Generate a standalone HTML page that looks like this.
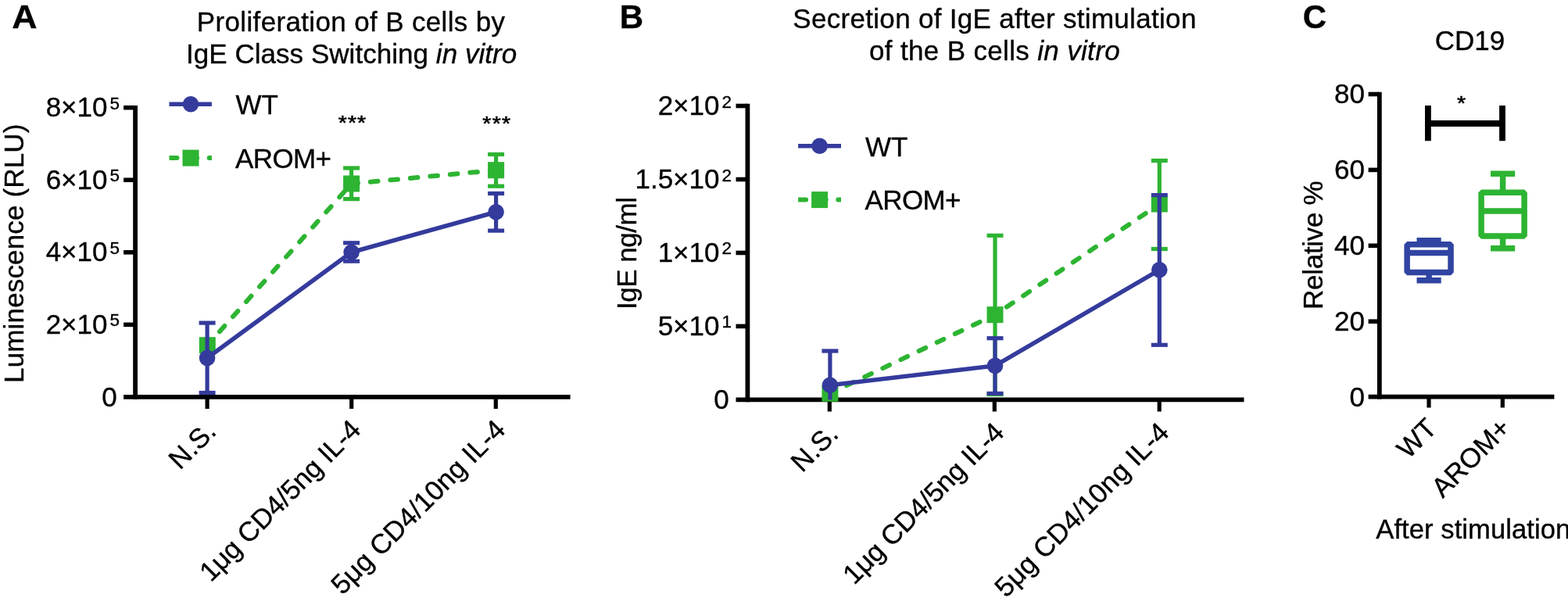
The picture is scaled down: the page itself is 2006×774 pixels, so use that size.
<!DOCTYPE html>
<html lang="en">
<head>
<meta charset="utf-8">
<title>Figure</title>
<style>
html,body{margin:0;padding:0;background:#fff;}
body{width:2006px;height:774px;overflow:hidden;}
svg{display:block;}
svg text{font-family:"Liberation Sans",sans-serif;fill:#000;font-kerning:none;stroke:#000;stroke-width:0.35px;}
</style>
</head>
<body>
<svg width="2006" height="774" viewBox="0 0 2006 774">
<rect x="0" y="0" width="2006" height="774" fill="#fff"/>
<text x="15.2" y="35.7" font-size="43" font-weight="bold" textLength="32.3" lengthAdjust="spacingAndGlyphs">A</text>
<text x="448.95" y="39.9" text-anchor="middle" font-size="35" textLength="394.2" lengthAdjust="spacing">Proliferation of B cells by</text>
<text x="449.6" y="80.6" text-anchor="middle" font-size="35" textLength="423.2" lengthAdjust="spacing">IgE Class Switching <tspan font-style="italic">in vitro</tspan></text>
<text transform="translate(29.7,324.3) rotate(-90)" text-anchor="middle" font-size="35" textLength="331.3" lengthAdjust="spacing">Luminescence (RLU)</text>
<path d="M173.1,134.9 V510.7" stroke="#000" stroke-width="5.8" fill="none"/>
<path d="M158.1,507.9 H729.6" stroke="#000" stroke-width="5.6" fill="none"/>
<line x1="158.1" y1="137.7" x2="173" y2="137.7" stroke="#000" stroke-width="5.6"/>
<line x1="158.1" y1="230.25" x2="173" y2="230.25" stroke="#000" stroke-width="5.6"/>
<line x1="158.1" y1="322.8" x2="173" y2="322.8" stroke="#000" stroke-width="5.6"/>
<line x1="158.1" y1="415.35" x2="173" y2="415.35" stroke="#000" stroke-width="5.6"/>
<line x1="265.1" y1="507.9" x2="265.1" y2="523" stroke="#000" stroke-width="5.2"/>
<line x1="449.7" y1="507.9" x2="449.7" y2="523" stroke="#000" stroke-width="5.2"/>
<line x1="634.3" y1="507.9" x2="634.3" y2="523" stroke="#000" stroke-width="5.2"/>
<text x="153" y="149.29999999999998" text-anchor="end" font-size="35">8×10<tspan font-size="22.5" dy="-9.6" dx="3">5</tspan></text>
<text x="153" y="241.85" text-anchor="end" font-size="35">6×10<tspan font-size="22.5" dy="-9.6" dx="3">5</tspan></text>
<text x="153" y="334.40000000000003" text-anchor="end" font-size="35">4×10<tspan font-size="22.5" dy="-9.6" dx="3">5</tspan></text>
<text x="153" y="426.95000000000005" text-anchor="end" font-size="35">2×10<tspan font-size="22.5" dy="-9.6" dx="3">5</tspan></text>
<text x="149.6" y="519.5" text-anchor="end" font-size="35">0</text>
<text transform="translate(278.4,553.8) rotate(-45)" text-anchor="end" font-size="35">N.S.</text>
<text transform="translate(463.6,551.8) rotate(-45)" text-anchor="end" font-size="35" textLength="274.3" lengthAdjust="spacing">1μg CD4/5ng IL-4</text>
<text transform="translate(648.4,551.8) rotate(-45)" text-anchor="end" font-size="35" textLength="297.5" lengthAdjust="spacing">5μg CD4/10ng IL-4</text>
<line x1="265.3" y1="441.7" x2="449.6" y2="235" stroke="#2DB432" stroke-width="6" stroke-dasharray="9.6 16" stroke-dashoffset="2.1" stroke-linecap="round"/>
<line x1="449.6" y1="235" x2="634.6" y2="217.7" stroke="#2DB432" stroke-width="6" stroke-dasharray="9.6 16" stroke-dashoffset="1.2" stroke-linecap="round"/>
<line x1="449.6" y1="215" x2="449.6" y2="254.6" stroke="#2DB432" stroke-width="5.2"/>
<line x1="439.1" y1="215" x2="460.1" y2="215" stroke="#2DB432" stroke-width="5.2"/>
<line x1="439.1" y1="254.6" x2="460.1" y2="254.6" stroke="#2DB432" stroke-width="5.2"/>
<line x1="634.6" y1="197.5" x2="634.6" y2="238.2" stroke="#2DB432" stroke-width="5.2"/>
<line x1="624.1" y1="197.5" x2="645.1" y2="197.5" stroke="#2DB432" stroke-width="5.2"/>
<line x1="624.1" y1="238.2" x2="645.1" y2="238.2" stroke="#2DB432" stroke-width="5.2"/>
<rect x="254.8" y="431.2" width="21" height="21" fill="#2DB432"/>
<rect x="439.1" y="224.5" width="21" height="21" fill="#2DB432"/>
<rect x="624.1" y="207.2" width="21" height="21" fill="#2DB432"/>
<polyline points="265.1,457.9 449.6,322.7 634.6,271.2" fill="none" stroke="#343B9C" stroke-width="5.6" stroke-linejoin="round"/>
<line x1="265.1" y1="413.1" x2="265.1" y2="502.5" stroke="#343B9C" stroke-width="5.2"/>
<line x1="254.60000000000002" y1="413.1" x2="275.6" y2="413.1" stroke="#343B9C" stroke-width="5.2"/>
<line x1="254.60000000000002" y1="502.5" x2="275.6" y2="502.5" stroke="#343B9C" stroke-width="5.2"/>
<line x1="449.6" y1="310.75" x2="449.6" y2="334.2" stroke="#343B9C" stroke-width="5.2"/>
<line x1="439.1" y1="310.75" x2="460.1" y2="310.75" stroke="#343B9C" stroke-width="5.2"/>
<line x1="439.1" y1="334.2" x2="460.1" y2="334.2" stroke="#343B9C" stroke-width="5.2"/>
<line x1="634.6" y1="247.5" x2="634.6" y2="295.1" stroke="#343B9C" stroke-width="5.2"/>
<line x1="624.1" y1="247.5" x2="645.1" y2="247.5" stroke="#343B9C" stroke-width="5.2"/>
<line x1="624.1" y1="295.1" x2="645.1" y2="295.1" stroke="#343B9C" stroke-width="5.2"/>
<circle cx="265.1" cy="457.9" r="10.3" fill="#343B9C"/>
<circle cx="449.6" cy="322.7" r="10.3" fill="#343B9C"/>
<circle cx="634.6" cy="271.2" r="10.3" fill="#343B9C"/>
<line x1="216.5" y1="133.3" x2="270.9" y2="133.3" stroke="#343B9C" stroke-width="5.6"/>
<circle cx="244" cy="133.3" r="10.3" fill="#343B9C"/>
<clipPath id="c216"><rect x="216.5" y="192.1" width="54.39999999999998" height="20"/></clipPath>
<line x1="216.5" y1="202.1" x2="280.9" y2="202.1" stroke="#2DB432" stroke-width="6" stroke-dasharray="10 15.6" stroke-linecap="round" clip-path="url(#c216)"/>
<rect x="233.5" y="191.6" width="21" height="21" fill="#2DB432"/>
<text x="301.5" y="146.10000000000002" font-size="35">WT</text>
<text x="301.0" y="214.9" font-size="35" textLength="123" lengthAdjust="spacing">AROM+</text>
<text transform="translate(438.3,153) scale(0.85,0.762)" y="17.25" text-anchor="middle" font-size="33.4" style="stroke-width:0.8px">*</text>
<text transform="translate(450.5,153) scale(0.85,0.762)" y="17.25" text-anchor="middle" font-size="33.4" style="stroke-width:0.8px">*</text>
<text transform="translate(462.6,153) scale(0.85,0.762)" y="17.25" text-anchor="middle" font-size="33.4" style="stroke-width:0.8px">*</text>
<text transform="translate(622.7,154) scale(0.85,0.762)" y="17.25" text-anchor="middle" font-size="33.4" style="stroke-width:0.8px">*</text>
<text transform="translate(635.2,154) scale(0.85,0.762)" y="17.25" text-anchor="middle" font-size="33.4" style="stroke-width:0.8px">*</text>
<text transform="translate(647.5,154) scale(0.85,0.762)" y="17.25" text-anchor="middle" font-size="33.4" style="stroke-width:0.8px">*</text>
<text x="792.7" y="35.9" font-size="42" font-weight="bold">B</text>
<text x="1272.3" y="36.3" text-anchor="middle" font-size="35" textLength="516.1" lengthAdjust="spacing">Secretion of IgE after stimulation</text>
<text x="1272.3" y="77.4" text-anchor="middle" font-size="35" textLength="320.6" lengthAdjust="spacing">of the B cells <tspan font-style="italic">in vitro</tspan></text>
<text transform="translate(814.1,324) rotate(-90)" text-anchor="middle" font-size="35" textLength="144.2" lengthAdjust="spacing">IgE ng/ml</text>
<path d="M956.4,132.7 V514.2" stroke="#000" stroke-width="5.8" fill="none"/>
<path d="M941.5,511.4 H1591.5" stroke="#000" stroke-width="5.6" fill="none"/>
<line x1="941.5" y1="135.5" x2="956" y2="135.5" stroke="#000" stroke-width="5.6"/>
<line x1="941.5" y1="229.5" x2="956" y2="229.5" stroke="#000" stroke-width="5.6"/>
<line x1="941.5" y1="323.45" x2="956" y2="323.45" stroke="#000" stroke-width="5.6"/>
<line x1="941.5" y1="417.4" x2="956" y2="417.4" stroke="#000" stroke-width="5.6"/>
<line x1="1061.3" y1="511.4" x2="1061.3" y2="526.5" stroke="#000" stroke-width="5.2"/>
<line x1="1272.3" y1="511.4" x2="1272.3" y2="526.5" stroke="#000" stroke-width="5.2"/>
<line x1="1483.2" y1="511.4" x2="1483.2" y2="526.5" stroke="#000" stroke-width="5.2"/>
<text x="936" y="147.1" text-anchor="end" font-size="35">2×10<tspan font-size="22.5" dy="-9.6" dx="3">2</tspan></text>
<text x="936" y="241.1" text-anchor="end" font-size="35">1.5×10<tspan font-size="22.5" dy="-9.6" dx="3">2</tspan></text>
<text x="936" y="335.05" text-anchor="end" font-size="35">1×10<tspan font-size="22.5" dy="-9.6" dx="3">2</tspan></text>
<text x="936" y="429.0" text-anchor="end" font-size="35">5×10<tspan font-size="22.5" dy="-9.6" dx="3">1</tspan></text>
<text x="932.6" y="523.0" text-anchor="end" font-size="35">0</text>
<text transform="translate(1074.4,557.3) rotate(-45)" text-anchor="end" font-size="35">N.S.</text>
<text transform="translate(1286.6,555.3) rotate(-45)" text-anchor="end" font-size="35" textLength="274.3" lengthAdjust="spacing">1μg CD4/5ng IL-4</text>
<text transform="translate(1497.4,555.3) rotate(-45)" text-anchor="end" font-size="35" textLength="297.5" lengthAdjust="spacing">5μg CD4/10ng IL-4</text>
<line x1="1061.9" y1="503.2" x2="1273" y2="402.7" stroke="#2DB432" stroke-width="6" stroke-dasharray="9.6 16" stroke-dashoffset="2.1" stroke-linecap="round"/>
<line x1="1273" y1="402.7" x2="1483.3" y2="261" stroke="#2DB432" stroke-width="6" stroke-dasharray="9.6 16" stroke-dashoffset="7.7" stroke-linecap="round"/>
<line x1="1273" y1="301.3" x2="1273" y2="504.5" stroke="#2DB432" stroke-width="5.2"/>
<line x1="1262.5" y1="301.3" x2="1283.5" y2="301.3" stroke="#2DB432" stroke-width="5.2"/>
<line x1="1262.5" y1="504.5" x2="1283.5" y2="504.5" stroke="#2DB432" stroke-width="5.2"/>
<line x1="1483.3" y1="205.5" x2="1483.3" y2="318.5" stroke="#2DB432" stroke-width="5.2"/>
<line x1="1472.8" y1="205.5" x2="1493.8" y2="205.5" stroke="#2DB432" stroke-width="5.2"/>
<line x1="1472.8" y1="318.5" x2="1493.8" y2="318.5" stroke="#2DB432" stroke-width="5.2"/>
<rect x="1051.4" y="492.7" width="21" height="21" fill="#2DB432"/>
<rect x="1262.5" y="392.2" width="21" height="21" fill="#2DB432"/>
<rect x="1472.8" y="250.5" width="21" height="21" fill="#2DB432"/>
<polyline points="1061.9,492.8 1273,467.9 1483.3,345.3" fill="none" stroke="#343B9C" stroke-width="5.6" stroke-linejoin="round"/>
<line x1="1061.9" y1="449" x2="1061.9" y2="511.4" stroke="#343B9C" stroke-width="5.2"/>
<line x1="1051.4" y1="449" x2="1072.4" y2="449" stroke="#343B9C" stroke-width="5.2"/>
<line x1="1273" y1="432.7" x2="1273" y2="503.4" stroke="#343B9C" stroke-width="5.2"/>
<line x1="1262.5" y1="432.7" x2="1283.5" y2="432.7" stroke="#343B9C" stroke-width="5.2"/>
<line x1="1262.5" y1="503.4" x2="1283.5" y2="503.4" stroke="#343B9C" stroke-width="5.2"/>
<line x1="1483.3" y1="249.6" x2="1483.3" y2="441.3" stroke="#343B9C" stroke-width="5.2"/>
<line x1="1472.8" y1="249.6" x2="1493.8" y2="249.6" stroke="#343B9C" stroke-width="5.2"/>
<line x1="1472.8" y1="441.3" x2="1493.8" y2="441.3" stroke="#343B9C" stroke-width="5.2"/>
<circle cx="1061.9" cy="492.8" r="10.3" fill="#343B9C"/>
<circle cx="1273" cy="467.9" r="10.3" fill="#343B9C"/>
<circle cx="1483.3" cy="345.3" r="10.3" fill="#343B9C"/>
<line x1="1021.1" y1="186.8" x2="1076" y2="186.8" stroke="#343B9C" stroke-width="5.6"/>
<circle cx="1048.6" cy="186.8" r="10.3" fill="#343B9C"/>
<clipPath id="c1021"><rect x="1021.1" y="245.6" width="54.89999999999998" height="20"/></clipPath>
<line x1="1021.1" y1="255.6" x2="1086" y2="255.6" stroke="#2DB432" stroke-width="6" stroke-dasharray="10 15.6" stroke-linecap="round" clip-path="url(#c1021)"/>
<rect x="1038.1" y="245.1" width="21" height="21" fill="#2DB432"/>
<text x="1107" y="199.60000000000002" font-size="35">WT</text>
<text x="1106.5" y="268.4" font-size="35" textLength="123" lengthAdjust="spacing">AROM+</text>
<text x="1666.7" y="35.9" font-size="42" font-weight="bold">C</text>
<text x="1880.5" y="64" text-anchor="middle" font-size="35">CD19</text>
<text transform="translate(1692.2,313.6) rotate(-90)" text-anchor="middle" font-size="35" textLength="164.7" lengthAdjust="spacing">Relative %</text>
<path d="M1764.8,117.7 V510.5" stroke="#000" stroke-width="5.8" fill="none"/>
<path d="M1750.6,507.6 H1988.4" stroke="#000" stroke-width="5.8" fill="none"/>
<line x1="1750.6" y1="120.5" x2="1764" y2="120.5" stroke="#000" stroke-width="5.6"/>
<line x1="1750.6" y1="217.4" x2="1764" y2="217.4" stroke="#000" stroke-width="5.6"/>
<line x1="1750.6" y1="314.3" x2="1764" y2="314.3" stroke="#000" stroke-width="5.6"/>
<line x1="1750.6" y1="411.2" x2="1764" y2="411.2" stroke="#000" stroke-width="5.6"/>
<line x1="1828" y1="507.6" x2="1828" y2="521.5" stroke="#000" stroke-width="5.2"/>
<line x1="1922.3" y1="507.6" x2="1922.3" y2="521.5" stroke="#000" stroke-width="5.2"/>
<text x="1746" y="132.1" text-anchor="end" font-size="35">80</text>
<text x="1746" y="229.0" text-anchor="end" font-size="35">60</text>
<text x="1746" y="325.90000000000003" text-anchor="end" font-size="35">40</text>
<text x="1746" y="422.8" text-anchor="end" font-size="35">20</text>
<text x="1746" y="519.6" text-anchor="end" font-size="35">0</text>
<text transform="translate(1840,550) rotate(-45)" text-anchor="end" font-size="35">WT</text>
<text transform="translate(1934.5,549.5) rotate(-45)" text-anchor="end" font-size="35">AROM+</text>
<text x="1760.3" y="688.5" font-size="34.6" textLength="249" lengthAdjust="spacing">After stimulation</text>
<path d="M1826.9,135.1 V180.3 M1922,135.1 V180.3 M1826.9,158 H1922" stroke="#000" stroke-width="7.8" fill="none"/>
<text transform="translate(1869.45,127.8) scale(0.85,0.762)" y="17.25" text-anchor="middle" font-size="33.4" style="stroke-width:0.8px">*</text>
<path d="M1828.1,307.8 V312.7 M1828.1,348.5 V358.8 M1812.5,307.8 H1843.6999999999998 M1812.5,358.8 H1843.6999999999998 M1800.1499999999999,323.4 H1856.05" stroke="#3044A2" stroke-width="7.5" fill="none"/>
<rect x="1800.1499999999999" y="312.7" width="55.9" height="35.80000000000001" stroke="#3044A2" stroke-width="7.5" fill="none" stroke-linejoin="bevel"/>
<path d="M1922.6,222.3 V246.2 M1922.6,302.1 V317.8 M1907.0,222.3 H1938.1999999999998 M1907.0,317.8 H1938.1999999999998 M1895.1,270 H1950.1" stroke="#2DB432" stroke-width="7.5" fill="none"/>
<rect x="1895.1" y="246.2" width="55" height="55.900000000000034" stroke="#2DB432" stroke-width="7.5" fill="none" stroke-linejoin="bevel"/>
</svg>
</body>
</html>
